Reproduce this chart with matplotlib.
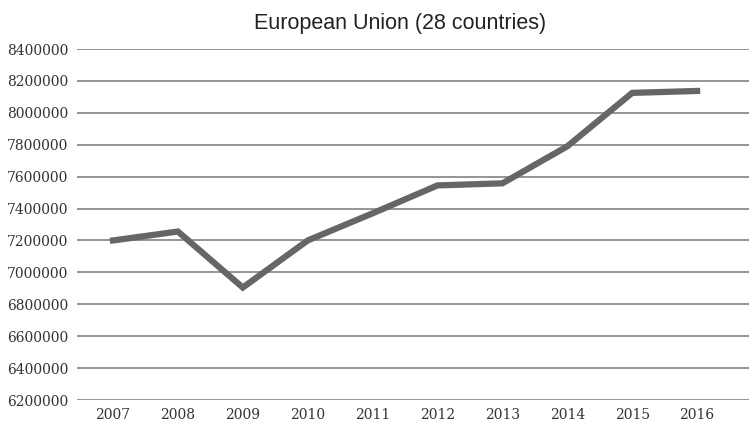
import numpy as np
import matplotlib.pyplot as plt

# DATA
years = ['2007', '2008', '2009', '2010', '2011', '2012', '2013', '2014', '2015', '2016']
values = [7200000, 7256000, 6905000, 7200000, 7370000, 7545000, 7558000, 7790000, 8125000, 8137000]
y_ticks = np.arange(6200000, 8400001, 200000)

# FIGURE
fig = plt.figure(figsize=(7.49, 4.23), dpi=100)
ax = fig.add_axes([77/749, 23/423, 672/749, 351/423])

x = np.arange(len(years))
ax.plot(x, values, color='#666666', linewidth=4.5, solid_joinstyle='miter', zorder=3)

ax.set_ylim(6200000, 8400000)
ax.set_xlim(-0.555, 9.80)
ax.set_yticks(y_ticks)
ax.set_yticklabels([str(v) for v in y_ticks], family='DejaVu Serif', fontsize=10, color='#333333')
ax.set_xticks(x)
ax.set_xticklabels(years, family='DejaVu Serif', fontsize=10, color='#333333')

ax.grid(axis='y', color='#8c8c8c', linewidth=1.3)
ax.set_axisbelow(True)
for s in ax.spines.values():
    s.set_visible(False)
ax.tick_params(length=0, pad=6)

fig.text(400/749, 1 - 23/423, 'European Union (28 countries)', ha='center', va='center',
         family='Liberation Sans', fontsize=15.5, color='#222222')

fig.savefig('out.png', dpi=100)
